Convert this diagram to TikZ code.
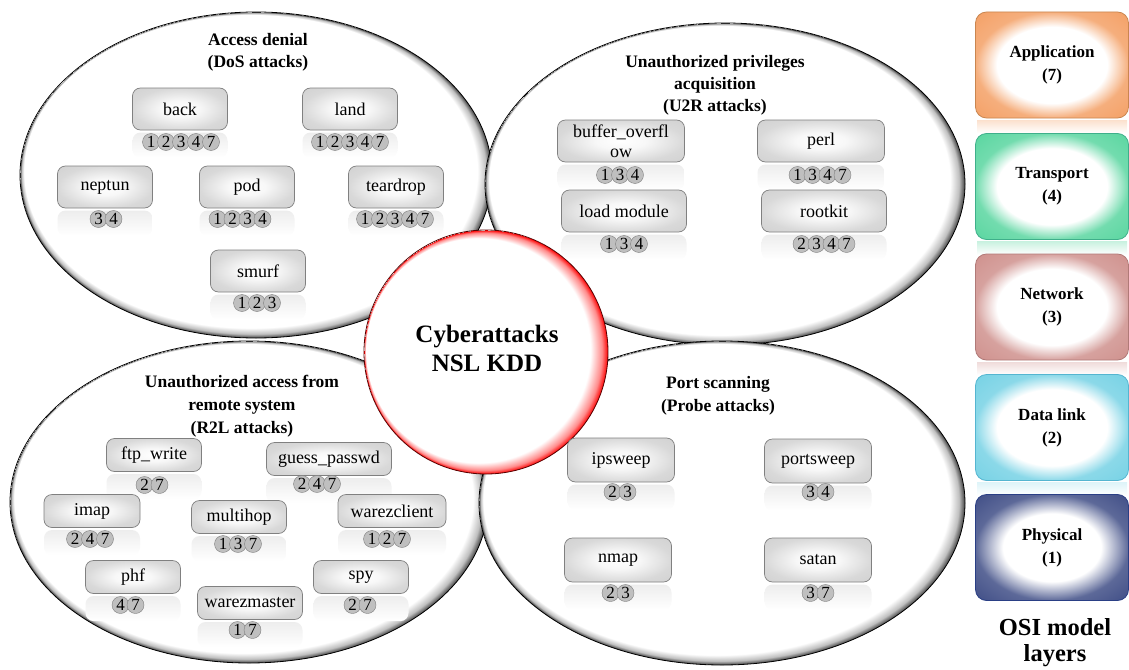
\documentclass[tikz,border=0pt]{standalone}
\usepackage{fontspec}
\setmainfont{Liberation Serif}
\usetikzlibrary{shapes.geometric}

\pgfdeclareradialshading{rimshade}{\pgfpoint{-14bp}{14bp}}{color(0bp)=(white); color(24.0bp)=(white); color(24.6bp)=(black!25); color(25bp)=(black!75)}
\pgfdeclareradialshading{redrim}{\pgfpoint{-20bp}{4bp}}{color(0bp)=(white); color(23bp)=(white); color(24.3bp)=(red!45); color(25bp)=(red)}
\pgfdeclareradialshading{boxshade}{\pgfpoint{0bp}{0bp}}{color(0bp)=(white); color(10bp)=(black!3); color(25bp)=(black!15); color(50bp)=(black!22)}

\definecolor{appc}{HTML}{F39A5C}
\definecolor{trac}{HTML}{4FD39A}
\definecolor{netc}{HTML}{CC8A86}
\definecolor{datc}{HTML}{6ECFE3}
\definecolor{phyc}{HTML}{34437F}
\definecolor{appb}{HTML}{C98650}
\definecolor{trab}{HTML}{3FAF8A}
\definecolor{netb}{HTML}{B07A78}
\definecolor{datb}{HTML}{55B5D0}
\definecolor{phyb}{HTML}{2A3F85}

\pgfdeclareradialshading{appshade}{\pgfpoint{0bp}{0bp}}{color(0bp)=(white); color(18bp)=(white); color(25bp)=(appc!80); color(40bp)=(appc)}
\pgfdeclareradialshading{trashade}{\pgfpoint{0bp}{0bp}}{color(0bp)=(white); color(18bp)=(white); color(25bp)=(trac!80); color(40bp)=(trac)}
\pgfdeclareradialshading{netshade}{\pgfpoint{0bp}{0bp}}{color(0bp)=(white); color(18bp)=(white); color(25bp)=(netc!80); color(40bp)=(netc)}
\pgfdeclareradialshading{datshade}{\pgfpoint{0bp}{0bp}}{color(0bp)=(white); color(18bp)=(white); color(25bp)=(datc!80); color(40bp)=(datc)}
\pgfdeclareradialshading{physhade}{\pgfpoint{0bp}{0bp}}{color(0bp)=(white); color(16bp)=(white); color(25bp)=(phyc!80); color(40bp)=(phyc)}

\tikzset{
  grp/.style={ellipse, draw=black, line width=0.8pt, shade, shading=rimshade, inner sep=0pt},
  attack/.style={draw=black!50, line width=0.7pt, rounded corners=8pt, shade, shading=boxshade,
    inner sep=1pt, font=\fontsize{18}{20}\selectfont, align=center},
  reflbox/.style={rounded corners=8pt, top color=black!7, bottom color=white, minimum height=25pt, inner sep=0pt, draw=none},
  numc/.style={circle, draw=black!50, fill=black!25, minimum size=17pt, inner sep=0pt, font=\fontsize{17}{17}\selectfont},
  grptitle/.style={font=\bfseries\fontsize{17.5}{22}\selectfont, align=center, inner sep=0pt},
  osi/.style={rounded corners=11pt, line width=0.8pt, shade, minimum width=153pt, minimum height=106pt,
    font=\bfseries\fontsize{17}{23}\selectfont, align=center, inner sep=0pt},
  osirefl/.style={minimum width=150pt, minimum height=13pt, inner sep=0pt, draw=none, anchor=north}
}

\newcommand\atk[6]{%
  \node[attack, minimum width=#4pt, minimum height=#5pt] (#1) at (#2,#3) {#6};
  \node[reflbox, minimum width=#4pt, anchor=north] (#1-refl) at ([yshift=-2pt]#1.south) {};
}
\newcommand\numrow[5]{%
  \foreach \d [count=\i] in {#5} {\node[numc] (#1-\i) at ({#2-(#4-1)*7.5+(\i-1)*15},#3) {\d};}
}

\begin{document}
\begin{tikzpicture}[x=1pt,y=-1pt]
\useasboundingbox (0,0) rectangle (1129,669);
\fill[white] (0,0) rectangle (1129,669);

% group ellipses
\node[grp, minimum width=472pt, minimum height=326pt] (dos) at (256,175) {};
\node[grp, minimum width=480pt, minimum height=322pt] (u2r) at (725,184) {};
\node[grp, minimum width=478pt, minimum height=322pt] (r2l) at (249,502) {};
\node[grp, minimum width=486pt, minimum height=324pt] (probe) at (722,503) {};

% center circle
\node[circle, minimum size=244pt, draw=red!35!black, line width=0.8pt, shade, shading=redrim, inner sep=0pt] (core) at (486,352) {};
\node[font=\bfseries\fontsize{25}{29}\selectfont, align=center, inner sep=0pt] (corelabel) at (487,348) {Cyberattacks\\NSL KDD};

% titles
\node[grptitle] (dostitle) at (258,52) {Access denial\\(DoS attacks)};
\node[grptitle] (u2rtitle) at (715,85) {Unauthorized privileges\\acquisition\\(U2R attacks)};
\node[grptitle, font=\bfseries\fontsize{17.5}{23}\selectfont] (r2ltitle) at (242,406) {Unauthorized access from\\remote system\\(R2L attacks)};
\node[grptitle, font=\bfseries\fontsize{17.5}{23}\selectfont] (probetitle) at (718,396) {Port scanning\\(Probe attacks)};

% DoS attacks
\atk{back}{180}{109}{95}{42}{back}
\atk{land}{350}{109}{95}{42}{land}
\atk{neptun}{105}{187}{95}{42}{neptun}
\atk{pod}{247}{187}{95}{42}{pod}
\atk{teardrop}{396}{187}{95}{42}{teardrop}
\atk{smurf}{258}{271}{95}{42}{smurf}
\numrow{backn}{181}{142}{5}{1,2,3,4,7}
\numrow{landn}{350}{142}{5}{1,2,3,4,7}
\numrow{neptunn}{106}{219}{2}{3,4}
\numrow{podn}{240}{219}{4}{1,2,3,4}
\numrow{teardropn}{395}{219}{5}{1,2,3,4,7}
\numrow{smurfn}{257}{303}{3}{1,2,3}

% U2R attacks
\atk{buffer}{621}{141}{127}{42}{buffer\_overfl\\ow}
\atk{perl}{821}{141}{127}{42}{perl}
\atk{loadmod}{624}{211}{125}{42}{load module}
\atk{rootkit}{824}{211}{125}{42}{rootkit}
\numrow{buffern}{620}{175}{3}{1,3,4}
\numrow{perln}{820}{175}{4}{1,3,4,7}
\numrow{loadmodn}{624}{244}{3}{1,3,4}
\numrow{rootkitn}{824}{244}{4}{2,3,4,7}

% R2L attacks
\atk{ftpwrite}{154}{455}{95}{33}{ftp\_write}
\atk{guesspw}{329}{459}{125}{33}{guess\_passwd}
\atk{imap}{92}{511}{96}{33}{imap}
\atk{multihop}{239}{517}{95}{33}{multihop}
\atk{warezclient}{392}{511}{108}{33}{warezclient}
\atk{phf}{133}{577}{95}{33}{phf}
\atk{warezmaster}{250}{603}{105}{33}{warezmaster}
\atk{spy}{361}{577}{95}{33}{spy}
\numrow{ftpwriten}{152}{485}{2}{2,7}
\numrow{guesspwn}{317}{484}{3}{2,4,7}
\numrow{imapn}{90}{539}{3}{2,4,7}
\numrow{multihopn}{238}{544}{3}{1,3,7}
\numrow{warezclientn}{387}{539}{3}{1,2,7}
\numrow{phfn}{128}{605}{2}{4,7}
\numrow{warezmastern}{245}{630}{2}{1,7}
\numrow{spyn}{360}{605}{2}{2,7}

% Probe attacks
\atk{ipsweep}{621}{460}{107}{44}{ipsweep}
\atk{portsweep}{818}{461}{107}{44}{portsweep}
\atk{nmap}{618}{560}{107}{44}{nmap}
\atk{satan}{818}{560}{107}{44}{satan}
\numrow{ipsweepn}{620}{492}{2}{2,3}
\numrow{portsweepn}{818}{492}{2}{3,4}
\numrow{nmapn}{618}{593}{2}{2,3}
\numrow{satann}{818}{593}{2}{3,7}

% OSI layers
\node[osirefl, top color=appc!30, bottom color=white] (apprefl) at (1052,120) {};
\node[osirefl, top color=trac!30, bottom color=white] (trarefl) at (1052,241.5) {};
\node[osirefl, top color=netc!30, bottom color=white] (netrefl) at (1052,362) {};
\node[osirefl, top color=datc!22, bottom color=white] (datrefl) at (1052,482.5) {};
\node[osi, shading=appshade, draw=appb] (app) at (1052,65) {Application\\(7)};
\node[osi, shading=trashade, draw=trab] (tra) at (1052,186.5) {Transport\\(4)};
\node[osi, shading=netshade, draw=netb] (net) at (1052,307) {Network\\(3)};
\node[osi, shading=datshade, draw=datb] (dat) at (1052,427.5) {Data link\\(2)};
\node[osi, shading=physhade, draw=phyb] (phy) at (1052,547.5) {Physical\\(1)};
\node[font=\bfseries\fontsize{24.5}{26}\selectfont, align=center, inner sep=0pt] (osilabel) at (1055,643) {OSI model\\layers};
\end{tikzpicture}
\end{document}
